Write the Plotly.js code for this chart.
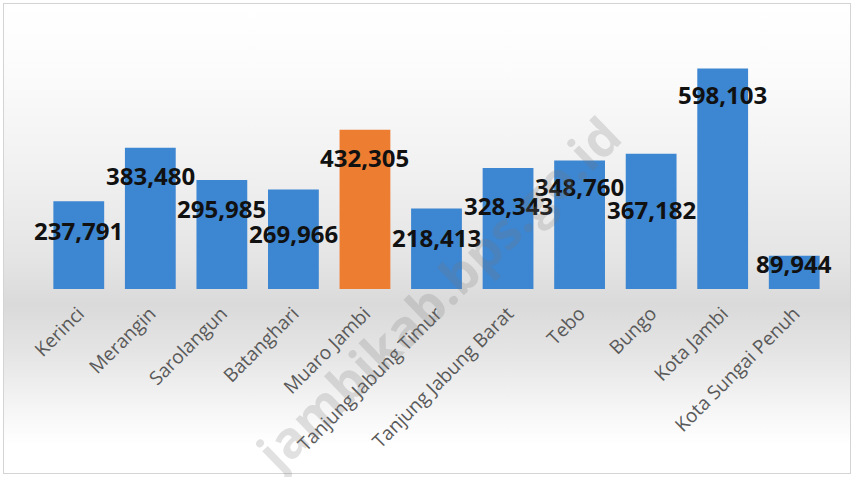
<!DOCTYPE html>
<html>
<head>
<meta charset="utf-8">
<script src="https://cdn.plot.ly/plotly-3.0.1.min.js"></script>
<style>
  html, body { margin: 0; padding: 0; background: #ffffff; }
  #wrap { position: relative; width: 854px; height: 477px; }
  #bg { position: absolute; left: 3px; top: 3px; width: 846px; height: 469px;
        border: 1px solid #d4d4d4;
        background: linear-gradient(to bottom, #ffffff 0%, #fbfbfb 15%, #f1f1f1 35%, #e4e4e4 55%, #dadada 64%, #e4e4e4 74%, #f5f5f5 86%, #ffffff 94%, #ffffff 100%); }
  #chart { position: absolute; left: 0; top: 0; width: 854px; height: 477px; }
</style>
</head>
<body>
<div id="wrap">
  <div id="bg"></div>
  <div id="chart"></div>
</div>
<script>
const categories = ["Kerinci", "Merangin", "Sarolangun", "Batanghari", "Muaro Jambi",
  "Tanjung Jabung Timur", "Tanjung Jabung Barat", "Tebo", "Bungo", "Kota Jambi", "Kota Sungai Penuh"];
const values = [237791, 383480, 295985, 269966, 432305, 218413, 328343, 348760, 367182, 598103, 89944];
const highlight = "Muaro Jambi";

// label placement (pixels below bar top), style only
const labelDrop = [29, 28, 29, 44, 28, 29, 38, 26, 56, 26, 8];

const colors = categories.map(c => c === highlight ? "#ed7d31" : "#3d86d1");

const fmt = v => v.toLocaleString("en-US");

const annotations = categories.map((c, i) => ({
  x: c, y: values[i], xref: "x", yref: "y",
  text: fmt(values[i]), showarrow: false,
  yanchor: "middle", xanchor: "center", yshift: -labelDrop[i],
  font: { family: "Open Sans", size: 24, color: "#111111", weight: "bold" }
}));

annotations.push({
  xref: "paper", yref: "paper", x: 0.5, y: -0.02,
  xanchor: "center", yanchor: "middle",
  text: "jambikab.bps.go.id", showarrow: false, textangle: -44,
  font: { family: "Open Sans", size: 51, color: "rgba(120,120,120,0.22)", weight: "bold" }
});

const trace = {
  type: "bar", x: categories, y: values,
  marker: { color: colors },
  hoverinfo: "none"
};

const layout = {
  width: 854, height: 477,
  margin: { l: 43, r: 24, t: 31, b: 188, autoexpand: false },
  paper_bgcolor: "rgba(0,0,0,0)", plot_bgcolor: "rgba(0,0,0,0)",
  bargap: 0.29,
  showlegend: false,
  xaxis: { range: [-0.5, categories.length - 0.5], tickangle: -45, showgrid: false, showline: false, automargin: false,
           ticks: "outside", ticklen: 5, tickcolor: "rgba(0,0,0,0)",
           tickfont: { family: "Open Sans", size: 19, color: "#595959" } },
  yaxis: { range: [0, 700000], visible: false, showgrid: false, zeroline: false, automargin: false },
  annotations: annotations
};

Plotly.newPlot("chart", [trace], layout, { staticPlot: true, displayModeBar: false });
</script>
</body>
</html>
